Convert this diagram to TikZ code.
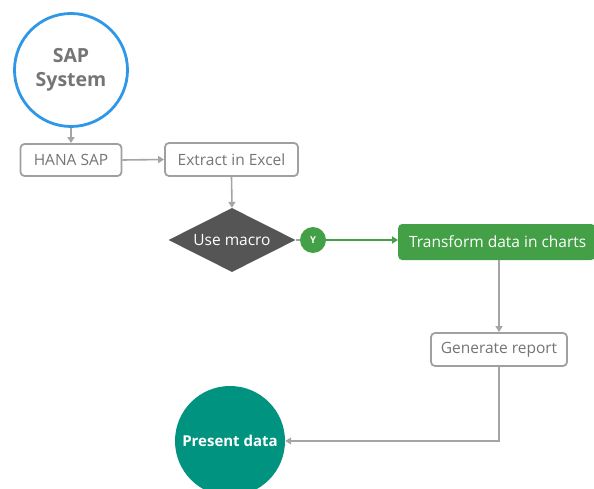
\documentclass[tikz,border=0pt]{standalone}
\usepackage{fontspec}
\setmainfont{Open Sans}
\usetikzlibrary{shapes.geometric,arrows.meta}
\definecolor{sapblue}{HTML}{2E97E8}
\definecolor{boxgray}{HTML}{A0A0A0}
\definecolor{txtgray}{HTML}{757575}
\definecolor{diagray}{HTML}{555555}
\definecolor{okgreen}{HTML}{43A047}
\definecolor{teal}{HTML}{00937F}
\definecolor{linegray}{HTML}{A5A5A5}
\tikzset{
  procbox/.style={draw=boxgray, line width=1.8pt, rounded corners=4pt, fill=white, text=txtgray, font=\fontsize{15.5}{18}\selectfont, inner sep=0pt},
  conn/.style={draw=linegray, line width=1.6pt, -{Triangle[length=6pt,width=7pt]}},
}
\begin{document}
\begin{tikzpicture}[x=1pt,y=-1pt]
\useasboundingbox (0,0) rectangle (594,489);
\clip (0,0) rectangle (594,489);
% nodes
\node[circle, draw=sapblue, line width=2.8pt, minimum size=113pt, inner sep=0pt, text=txtgray, font=\bfseries\fontsize{19.5}{24}\selectfont, align=center] (sap) at (71,70) {SAP\\System};
\node[procbox, minimum width=101pt, minimum height=32pt] (hana) at (71,160) {HANA SAP};
\node[procbox, minimum width=133pt, minimum height=33pt] (extract) at (231.5,159.5) {Extract in Excel};
\node[diamond, fill=diagray, minimum width=127pt, minimum height=64pt, aspect=2, inner sep=0pt, text=white, font=\fontsize{15.5}{18}\selectfont] (macro) at (232,240) {Use macro};
\node[circle, fill=okgreen, minimum size=26pt, inner sep=0pt, text=white, font=\bfseries\fontsize{9.5}{10}\selectfont] (yes) at (313,240) {Y};
\node[fill=okgreen, rounded corners=4pt, minimum width=197pt, minimum height=36pt, inner sep=0pt, text=white, font=\fontsize{15.5}{18}\selectfont, anchor=west] (transform) at (398,242) {\hspace*{2pt}Transform data in charts};
\node[procbox, minimum width=136pt, minimum height=33pt] (report) at (499,349.5) {Generate report};
\node[circle, fill=teal, minimum size=110pt, inner sep=0pt, text=white, font=\bfseries\fontsize{15}{18}\selectfont] (present) at (230,441) {Present data};
% connectors
\draw[conn] (sap.south) -- (hana.north);
\draw[conn] (hana.east) -- (extract.west);
\draw[conn] (extract.south) -- (macro.north);
\draw[draw=linegray, line width=1.6pt] (macro.east) -- (yes.west);
\draw[draw=okgreen, line width=1.6pt, -{Triangle[length=6pt,width=7pt]}] (yes.east) -- (transform.west |- yes.east);
\draw[conn] (transform.south -| report.north) -- (report.north);
\coordinate (bend) at (report.south |- present.east);
\draw[conn] (report.south) -- (bend) -- (present.east);
\end{tikzpicture}
\end{document}
